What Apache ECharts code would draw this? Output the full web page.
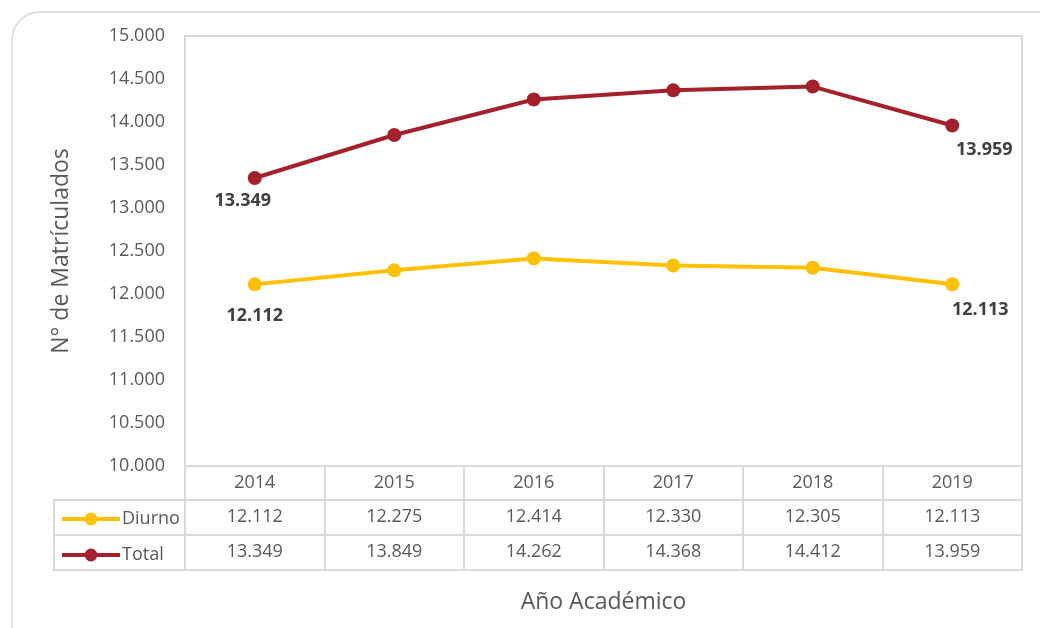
<!DOCTYPE html>
<html>
<head>
<meta charset="utf-8">
<script src="https://cdn.jsdelivr.net/npm/echarts@6/dist/echarts.min.js"></script>
<style>
  html, body { margin: 0; padding: 0; background: #fff; }
  #chart { width: 1040px; height: 628px; }
</style>
</head>
<body>
<div id="chart"></div>
<script>
// datos
const years = ['2014', '2015', '2016', '2017', '2018', '2019'];
const diurno = [12112, 12275, 12414, 12330, 12305, 12113];
const total = [13349, 13849, 14262, 14368, 14412, 13959];
const yTicks = { min: 10000, max: 15000, step: 500 };

const FONT = '"Open Sans", "Noto Sans", sans-serif';
const GREY = '#595959';
const LINE = '#d9d9d9';
const FS = 18;

// 12112 -> "12.112"
function fmt(n) {
  return String(Math.round(n)).replace(/\B(?=(\d{3})+(?!\d))/g, '.');
}

// solo el primer y ultimo punto llevan etiqueta
function withEnds(values, firstOff, lastOff) {
  return values.map((v, i) => {
    if (i === 0) return { value: v, label: { show: true, position: 'bottom', offset: firstOff } };
    if (i === values.length - 1) return { value: v, label: { show: true, position: 'bottom', offset: lastOff } };
    return v;
  });
}

const chart = echarts.init(document.getElementById('chart'));

const rowAxis = (values, offset) => ({
  type: 'category',
  gridIndex: 0,
  position: 'bottom',
  offset: offset,
  data: years,
  axisLine: { show: false },
  axisTick: { show: false },
  axisLabel: {
    margin: 8,
    fontFamily: FONT, fontSize: FS, color: GREY,
    formatter: (val, idx) => fmt(values[idx])
  }
});

const labelStyle = { fontFamily: FONT, fontSize: 18, fontWeight: 'bold', color: '#404040', formatter: p => fmt(p.value) };

const option = {
  animation: false,
  grid: {
    left: 185, right: 18, top: 36, bottom: 162,
    show: true, borderColor: LINE, borderWidth: 2
  },
  legend: {
    orient: 'vertical',
    left: 55, top: 505,
    itemWidth: 58, itemHeight: 16, itemGap: 18,
    lineStyle: { width: 4 },
    textStyle: { fontFamily: FONT, fontSize: 18, color: GREY, padding: [0, 0, 0, -3] },
    data: ['Diurno', 'Total']
  },
  xAxis: [
    {
      type: 'category',
      data: years,
      name: 'Año Académico',
      nameLocation: 'middle',
      nameGap: 125,
      nameTextStyle: { fontFamily: FONT, fontSize: 23, color: GREY },
      axisLine: { show: true, lineStyle: { color: LINE, width: 2 } },
      axisTick: { show: true, length: 104, lineStyle: { color: LINE, width: 2 } },
      axisLabel: { margin: 8, fontFamily: FONT, fontSize: FS, color: GREY }
    },
    rowAxis(diurno, 34),
    rowAxis(total, 69)
  ],
  yAxis: {
    type: 'value',
    min: yTicks.min, max: yTicks.max, interval: yTicks.step,
    name: 'N° de Matrículados',
    nameLocation: 'middle',
    nameGap: 112,
    nameTextStyle: { fontFamily: FONT, fontSize: 23, color: GREY },
    axisLine: { show: false },
    axisTick: { show: false },
    splitLine: { show: false },
    axisLabel: { margin: 20, fontFamily: FONT, fontSize: FS, color: GREY, formatter: v => fmt(v) }
  },
  series: [
    {
      name: 'Diurno',
      type: 'line',
      data: withEnds(diurno, [0, 11], [28, 5]),
      symbol: 'circle', symbolSize: 14,
      itemStyle: { color: '#FFC000' },
      lineStyle: { color: '#FFC000', width: 4 },
      label: labelStyle
    },
    {
      name: 'Total',
      type: 'line',
      data: withEnds(total, [-12, 2], [32, 3]),
      symbol: 'circle', symbolSize: 14,
      itemStyle: { color: '#A4202B' },
      lineStyle: { color: '#A4202B', width: 4 },
      label: labelStyle
    }
  ],
  graphic: [
    // marco exterior
    { type: 'rect', shape: { x: 12, y: 12, width: 1070, height: 660, r: 28 }, style: { fill: 'none', stroke: LINE, lineWidth: 1.5 }, silent: true },
    // filas de la tabla
    { type: 'line', shape: { x1: 53, y1: 500, x2: 1023, y2: 500 }, style: { stroke: LINE, lineWidth: 2 }, silent: true },
    { type: 'line', shape: { x1: 53, y1: 535, x2: 1023, y2: 535 }, style: { stroke: LINE, lineWidth: 2 }, silent: true },
    { type: 'line', shape: { x1: 53, y1: 570, x2: 1023, y2: 570 }, style: { stroke: LINE, lineWidth: 2 }, silent: true },
    { type: 'line', shape: { x1: 54, y1: 500, x2: 54, y2: 570 }, style: { stroke: LINE, lineWidth: 2 }, silent: true },
    { type: 'line', shape: { x1: 185, y1: 466, x2: 185, y2: 570 }, style: { stroke: LINE, lineWidth: 2 }, silent: true }
  ]
};

chart.setOption(option);
</script>
</body>
</html>
